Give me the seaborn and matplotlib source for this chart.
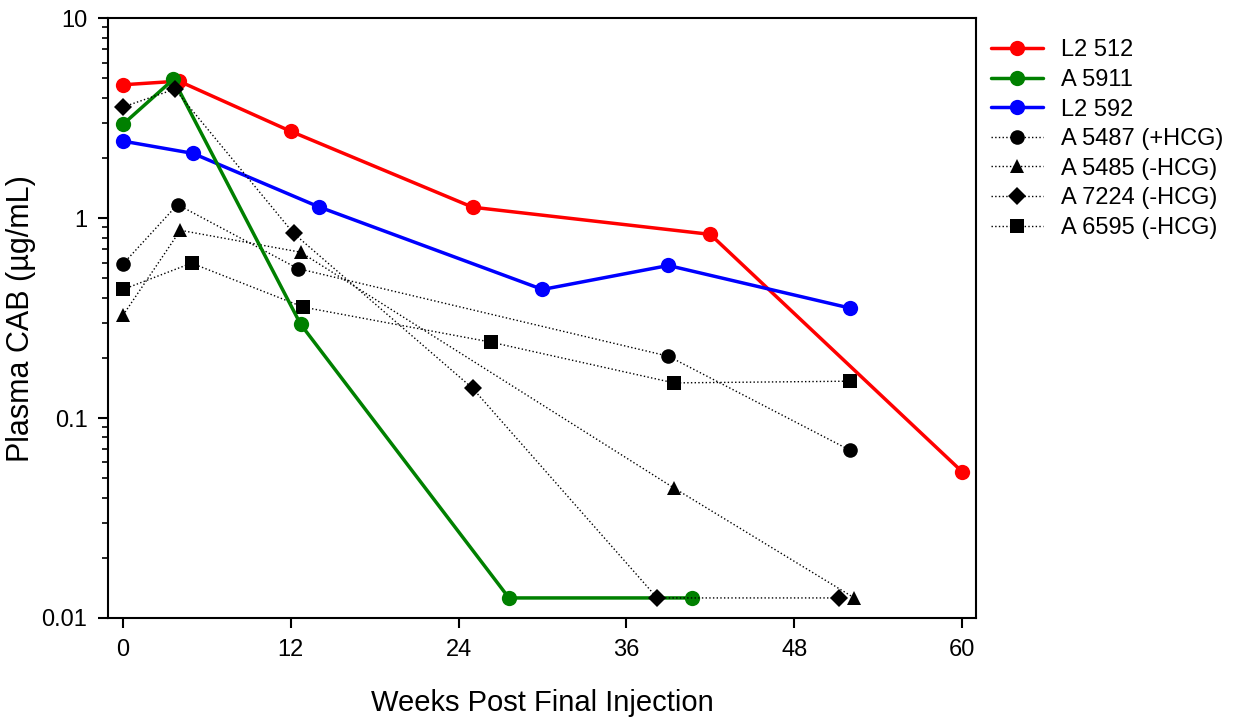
import numpy as np
import pandas as pd
import matplotlib
matplotlib.use("Agg")
import matplotlib.pyplot as plt
import matplotlib.ticker as mticker
import seaborn as sns

sns.set_style("ticks")
plt.rcParams['font.family'] = ['Liberation Sans', 'DejaVu Sans']
plt.rcParams['text.color'] = 'black'
plt.rcParams['axes.labelcolor'] = 'black'
plt.rcParams['xtick.color'] = 'black'
plt.rcParams['ytick.color'] = 'black'

# Data
names = ["L2 512", "A 5911", "L2 592", "A 5487 (+HCG)", "A 5485 (-HCG)", "A 7224 (-HCG)", "A 6595 (-HCG)"]
l2_512_x = [0, 4, 12, 25, 42, 60]
l2_512_y = [4.65, 4.85, 2.72, 1.135, 0.83, 0.054]
a5911_x = [0, 3.6, 12.7, 27.6, 40.7]
a5911_y = [2.95, 4.95, 0.295, 0.0126, 0.0126]
l2_592_x = [0, 5, 14, 30, 39, 52]
l2_592_y = [2.43, 2.11, 1.14, 0.44, 0.58, 0.355]
a5487_x = [0, 3.9, 12.5, 39, 52]
a5487_y = [0.59, 1.17, 0.56, 0.204, 0.069]
a5485_x = [0, 4.1, 12.7, 39.4, 52.3]
a5485_y = [0.327, 0.87, 0.676, 0.0447, 0.0126]
a7224_x = [0, 3.7, 12.2, 25, 38.2, 51.2]
a7224_y = [3.6, 4.42, 0.84, 0.141, 0.0126, 0.0126]
a6595_x = [0, 4.9, 12.9, 26.3, 39.4, 52]
a6595_y = [0.44, 0.596, 0.359, 0.24, 0.15, 0.153]

xs = [l2_512_x, a5911_x, l2_592_x, a5487_x, a5485_x, a7224_x, a6595_x]
ys = [l2_512_y, a5911_y, l2_592_y, a5487_y, a5485_y, a7224_y, a6595_y]
colors = ["#FF0000", "#008000", "#0000FF", "black", "black", "black", "black"]
markers = ["o", "o", "o", "o", "^", "D", "s"]
msizes = [11, 11, 11, 10.5, 10.5, 9, 9.5]
lstyles = ["-", "-", "-", ":", ":", ":", ":"]
lwidths = [2.5, 2.5, 2.5, 1.0, 1.0, 1.0, 1.0]
zorders = [3, 4, 3, 2, 2, 5, 2]

fig = plt.figure(figsize=(12.41, 7.24), dpi=100)
ax = fig.add_axes([108.3/1241, 1-618/724, (976-108.3)/1241, (618-18.3)/724])

for i in range(len(names)):
    df = pd.DataFrame({"x": xs[i], "y": ys[i]})
    sns.lineplot(data=df, x="x", y="y", ax=ax, color=colors[i], marker=markers[i],
                 markersize=msizes[i], linestyle=lstyles[i], linewidth=lwidths[i],
                 markeredgewidth=0, label=names[i], sort=False, zorder=zorders[i],
                 estimator=None)

ax.set_yscale("log")
ax.set_ylim(0.01, 10)
ax.set_xlim(-1.05, 61)
ax.set_xticks([0, 12, 24, 36, 48, 60])
ax.yaxis.set_major_locator(mticker.FixedLocator([0.01, 0.1, 1, 10]))
ax.yaxis.set_major_formatter(mticker.FixedFormatter(["0.01", "0.1", "1", "10"]))
ax.yaxis.set_minor_locator(mticker.LogLocator(base=10, subs=np.arange(2, 10)))
ax.yaxis.set_minor_formatter(mticker.NullFormatter())

for s in ax.spines.values():
    s.set_linewidth(1.5)
    s.set_color("black")
    s.set_visible(True)
ax.tick_params(axis="both", which="major", direction="out", length=7, width=1.5, labelsize=17,
               colors="black", labelcolor="black", pad=8)
ax.tick_params(axis="y", which="minor", direction="out", length=4, width=1.2, colors="black")
ax.tick_params(axis="x", which="minor", length=0)

ax.set_xlabel("Weeks Post Final Injection", fontsize=21, labelpad=20, color="black")
ax.set_ylabel("Plasma CAB (µg/mL)", fontsize=22, labelpad=4, color="black")

leg = ax.legend(loc="upper left", bbox_to_anchor=(982/1241, 1-30/724), bbox_transform=fig.transFigure,
                frameon=False, fontsize=17, handlelength=2.2, labelspacing=0.32, handletextpad=0.75,
                borderaxespad=0)
for t in leg.get_texts():
    t.set_color("black")

fig.savefig("out.png", dpi=100)
